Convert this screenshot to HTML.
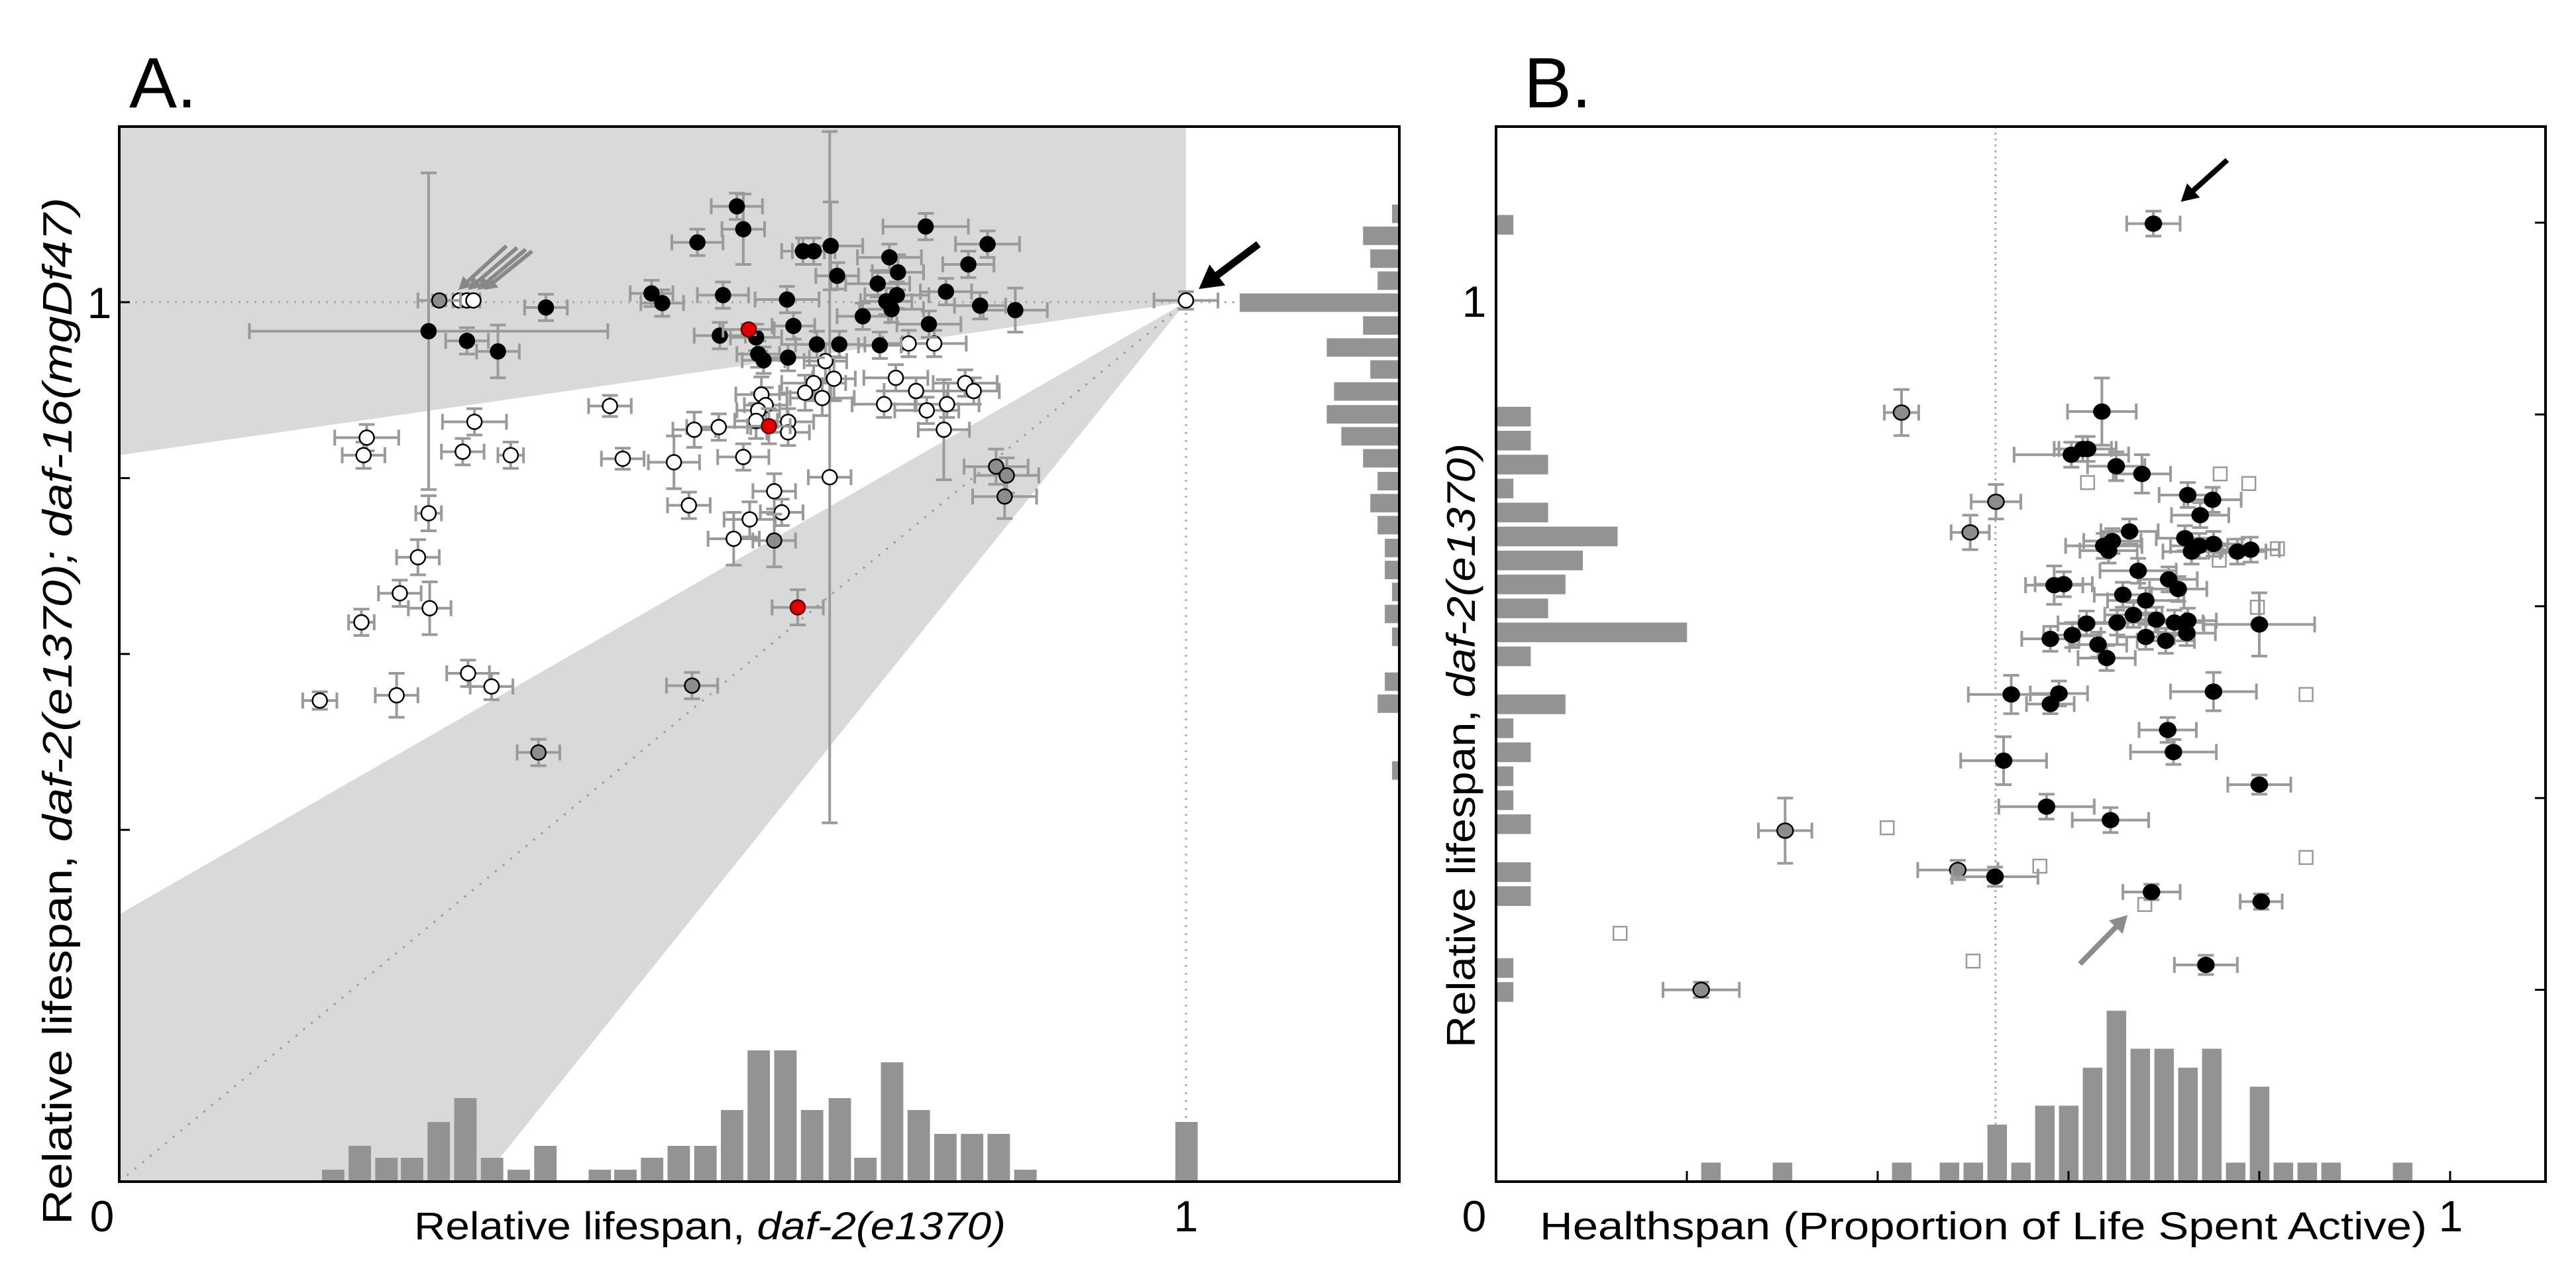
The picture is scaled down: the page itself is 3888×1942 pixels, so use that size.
<!DOCTYPE html>
<html><head><meta charset="utf-8"><style>
html,body{margin:0;padding:0;background:#fff;}
svg{display:block;font-family:"Liberation Sans",sans-serif;}
</style></head><body>
<svg id="fig" width="3888" height="1942" viewBox="0 0 3888 1942" xmlns="http://www.w3.org/2000/svg">
<g id="panelA"></g>
<g id="panelB"></g>
</svg>
<script>
// ---------- Panel A data ----------
const aBlackX=[0.579,0.585,0.542,0.641,0.651,0.667,0.756,0.814,0.796,0.722,0.673,0.730,0.711,0.729,0.775,0.499,0.509,0.566,0.626,0.719,0.724,0.807,0.840,0.400,0.697,0.759,0.632,0.290,0.326,0.355,0.563,0.597,0.654,0.675,0.713,0.599,0.604,0.627];
const aBlackY=[1.109,1.083,1.068,1.058,1.058,1.064,1.086,1.066,1.043,1.051,1.030,1.034,1.021,1.008,1.012,1.010,0.999,1.008,1.003,1.001,0.992,0.996,0.991,0.994,0.984,0.975,0.973,0.967,0.956,0.944,0.962,0.960,0.952,0.952,0.951,0.941,0.934,0.937];
const aBlackXErr=[0.024,0.02,0.024,0.02,0.02,0.03,0.04,0.03,0.024,0.03,0.02,0.024,0.03,0.03,0.024,0.02,0.02,0.024,0.03,0.024,0.03,0.024,0.03,0.02,0.024,0.03,0.02,0.168,0.02,0.02,0.024,0.024,0.02,0.024,0.02,0.02,0.02,0.02];
const aBlackYErr=[0.015,0.04,0.015,0.015,0.015,0.05,0.015,0.015,0.015,0.015,0.015,0.02,0.015,0.015,0.015,0.015,0.015,0.015,0.015,0.015,0.015,0.015,0.025,0.015,0.015,0.015,0.015,0.18,0.015,0.03,0.015,0.015,0.015,0.015,0.015,0.015,0.015,0.015];
const aRedX=[0.590,0.609,0.636];
const aRedY=[0.969,0.859,0.653];
const aGrayX=[0.300,0.822,0.832,0.830,0.614,0.537,0.393];
const aGrayY=[1.002,0.813,0.803,0.779,0.729,0.564,0.488];
const aGrayXErr=[0.02,0.03,0.03,0.03,0.02,0.024,0.02];
const aGrayYErr=[0.006,0.02,0.02,0.025,0.03,0.015,0.015];
const aWhiteX=[0.319,0.326,0.332,1.000,0.662,0.740,0.764,0.670,0.651,0.643,0.659,0.602,0.606,0.599,0.597,0.627,0.627,0.539,0.562,0.460,0.333,0.232,0.229,0.322,0.367,0.472,0.520,0.585,0.728,0.747,0.793,0.801,0.717,0.757,0.776,0.773,0.666,0.614,0.621,0.591,0.576,0.534,0.290,0.280,0.263,0.291,0.227,0.327,0.349,0.188,0.260];
const aWhiteY=[1.002,1.002,1.002,1.002,0.933,0.953,0.953,0.913,0.908,0.897,0.891,0.895,0.883,0.877,0.865,0.864,0.852,0.855,0.858,0.882,0.864,0.846,0.826,0.830,0.826,0.822,0.818,0.824,0.914,0.899,0.908,0.899,0.884,0.877,0.884,0.855,0.801,0.785,0.761,0.753,0.731,0.769,0.760,0.710,0.669,0.652,0.636,0.578,0.563,0.547,0.553];
const aWhiteXErr=[0.006,0.006,0.006,0.03,0.02,0.024,0.03,0.02,0.03,0.024,0.03,0.024,0.02,0.02,0.02,0.024,0.02,0.02,0.03,0.02,0.03,0.03,0.02,0.02,0.012,0.02,0.024,0.024,0.03,0.03,0.03,0.024,0.03,0.03,0.03,0.024,0.02,0.02,0.02,0.024,0.024,0.02,0.012,0.02,0.02,0.02,0.012,0.02,0.02,0.016,0.02];
const aWhiteYErr=[0.006,0.006,0.006,0.01,0.02,0.015,0.015,0.025,0.02,0.02,0.02,0.02,0.02,0.02,0.02,0.015,0.015,0.02,0.015,0.012,0.015,0.015,0.015,0.015,0.015,0.012,0.03,0.015,0.015,0.015,0.015,0.015,0.015,0.015,0.015,0.057,0.393,0.02,0.015,0.02,0.03,0.015,0.02,0.02,0.015,0.03,0.015,0.015,0.015,0.01,0.025];
const aHistBottomLeft=[0.190,0.215,0.240,0.264,0.289,0.314,0.339,0.364,0.389,0.440,0.464,0.489,0.514,0.539,0.564,0.589,0.614,0.639,0.665,0.689,0.714,0.739,0.764,0.789,0.814,0.839,0.990];
const aHistBottomCount=[1,3,2,2,5,7,2,1,3,1,1,2,3,3,6,11,11,6,7,2,10,6,4,4,4,1,5];
const aHistRightTop=[1.111,1.086,1.060,1.035,1.010,0.984,0.959,0.934,0.909,0.883,0.858,0.833,0.807,0.782,0.757,0.731,0.706,0.681,0.656,0.630,0.579,0.554,0.478];
const aHistRightCount=[1,5,4,3,22,5,10,4,9,10,8,5,3,4,3,2,2,1,2,1,2,3,1];

// ---------- Panel B data ----------
const bBlackX=[0.689,0.635,0.603,0.615,0.620,0.650,0.677,0.725,0.751,0.738,0.664,0.722,0.637,0.646,0.642,0.737,0.729,0.752,0.777,0.791,0.673,0.705,0.715,0.585,0.595,0.657,0.681,0.668,0.651,0.692,0.619,0.711,0.725,0.724,0.581,0.604,0.631,0.640,0.681,0.702,0.800,0.540,0.590,0.581,0.752,0.704,0.710,0.532,0.800,0.577,0.644,0.523,0.687,0.802,0.744];
const bBlackY=[0.999,0.803,0.758,0.764,0.764,0.746,0.738,0.716,0.711,0.695,0.678,0.671,0.663,0.668,0.658,0.663,0.657,0.665,0.657,0.659,0.637,0.628,0.618,0.622,0.623,0.612,0.606,0.591,0.583,0.586,0.582,0.583,0.585,0.572,0.566,0.570,0.560,0.546,0.568,0.564,0.581,0.508,0.509,0.498,0.511,0.471,0.448,0.439,0.414,0.391,0.377,0.318,0.302,0.292,0.226];
const bBlackXErr=[0.028,0.036,0.06,0.03,0.03,0.03,0.03,0.03,0.03,0.03,0.03,0.03,0.04,0.03,0.03,0.03,0.03,0.03,0.03,0.03,0.04,0.03,0.03,0.03,0.03,0.03,0.04,0.03,0.04,0.03,0.03,0.03,0.03,0.03,0.03,0.03,0.03,0.03,0.03,0.03,0.058,0.045,0.03,0.025,0.045,0.03,0.045,0.045,0.033,0.05,0.04,0.045,0.03,0.022,0.033];
const bBlackYErr=[0.013,0.035,0.013,0.013,0.013,0.015,0.02,0.013,0.013,0.013,0.013,0.013,0.013,0.013,0.013,0.013,0.013,0.013,0.013,0.013,0.013,0.013,0.013,0.02,0.013,0.013,0.013,0.013,0.013,0.013,0.013,0.013,0.013,0.013,0.013,0.013,0.013,0.013,0.013,0.013,0.033,0.02,0.013,0.01,0.02,0.013,0.013,0.025,0.01,0.013,0.013,0.01,0.008,0.008,0.01];
const bGrayX=[0.425,0.524,0.497,0.303,0.484,0.215];
const bGrayY=[0.802,0.709,0.677,0.366,0.325,0.200];
const bGrayXErr=[0.018,0.026,0.02,0.028,0.042,0.04];
const bGrayYErr=[0.024,0.018,0.018,0.034,0.01,0.008];
const bSquareX=[0.620,0.759,0.789,0.819,0.758,0.798,0.849,0.410,0.570,0.849,0.680,0.130,0.500];
const bSquareY=[0.729,0.738,0.728,0.660,0.648,0.599,0.508,0.369,0.329,0.338,0.289,0.259,0.230];
const bHistBottomLeft=[0.215,0.290,0.415,0.465,0.490,0.515,0.540,0.565,0.590,0.615,0.640,0.665,0.690,0.715,0.740,0.765,0.790,0.815,0.840,0.865,0.940];
const bHistBottomCount=[1,1,1,1,1,3,1,4,4,6,9,7,7,6,7,1,5,1,1,1,1];
const bHistLeftTop=[1.008,0.808,0.783,0.758,0.733,0.708,0.683,0.658,0.633,0.608,0.583,0.558,0.508,0.483,0.458,0.433,0.408,0.383,0.333,0.308,0.233,0.208];
const bHistLeftCount=[1,2,2,3,1,3,7,5,4,3,11,2,4,1,2,1,1,2,2,2,1,1];

// ---------- axis functions ----------
const A={L:180,T:191,B:1783,ux:1610,uy:1327};
const xa=v=>A.L+v*A.ux, ya=v=>A.B-v*A.uy;
const Bp={L:2258,T:191,B:1783,R:3842,ux:1440,uy:1447};
const xb=v=>Bp.L+v*Bp.ux, yb=v=>Bp.B-v*Bp.uy;
const NS='http://www.w3.org/2000/svg';
function mk(parent,tag,attrs,text){const e=document.createElementNS(NS,tag);for(const k in attrs)e.setAttribute(k,attrs[k]);if(text!==undefined)e.textContent=text;parent.appendChild(e);return e;}
const gA=document.getElementById('panelA'), gB=document.getElementById('panelB');
const EC='#9a9a9a';

function errbar(g,cx,cy,x1,x2,y1,y2){
  const eb=mk(g,'g',{stroke:EC,'stroke-width':4,fill:'none'});
  
  
  mk(eb,'line',{x1:x1,y1:cy,x2:x2,y2:cy});
  mk(eb,'line',{x1:x1,y1:cy-12,x2:x1,y2:cy+12});
  mk(eb,'line',{x1:x2,y1:cy-12,x2:x2,y2:cy+12});
  mk(eb,'line',{x1:cx,y1:y1,x2:cx,y2:y2});
  mk(eb,'line',{x1:cx-12,y1:y1,x2:cx+12,y2:y1});
  mk(eb,'line',{x1:cx-12,y1:y2,x2:cx+12,y2:y2});
}

// ===== Panel A =====
const shade1=mk(gA,'polygon',{points:[[xa(0),ya(1.2)],[xa(1),ya(1.2)],[xa(1),ya(1)],[xa(0),ya(0.826)]].join(' '),fill:'#d9d9d9'});


const shade2=mk(gA,'polygon',{points:[[xa(1),ya(1)],[xa(0),ya(0.304)],[xa(0),ya(0)],[xa(0.339),ya(0)]].join(' '),fill:'#d9d9d9'});


const dl1=mk(gA,'line',{x1:xa(0),y1:ya(1),x2:xa(1.2),y2:ya(1),stroke:'#aaa','stroke-width':3,'stroke-dasharray':'3 9'});


const dl2=mk(gA,'line',{x1:xa(1),y1:ya(0),x2:xa(1),y2:ya(1),stroke:'#aaa','stroke-width':3,'stroke-dasharray':'3 9'});


const dl3=mk(gA,'line',{x1:xa(0),y1:ya(0),x2:xa(1),y2:ya(1),stroke:'#999','stroke-width':3,'stroke-dasharray':'3 12'});


for(let i=0;i<aHistBottomLeft.length;i++){
  const h=aHistBottomCount[i]*0.01357;
  const r=mk(gA,'rect',{x:xa(aHistBottomLeft[i]),y:ya(h),width:xa(0.021)-xa(0),height:ya(0)-ya(h),fill:'#939393'});
  
  
}
for(let i=0;i<aHistRightTop.length;i++){
  const w=aHistRightCount[i]*0.0068;
  const r=mk(gA,'rect',{x:xa(1.2-w),y:ya(aHistRightTop[i]),width:xa(w)-xa(0),height:ya(0)-ya(0.021),fill:'#939393'});
  
  
}
function drawPointsA(X,Y,XE,YE,fill,stroke,name){
  for(let i=0;i<X.length;i++){
    const xe=XE?XE[i]:0,ye=YE?YE[i]:0;
    if(XE) errbar(gA,xa(X[i]),ya(Y[i]),xa(X[i]-xe),xa(X[i]+xe),ya(Y[i]+ye),ya(Y[i]-ye));
  }
  for(let i=0;i<X.length;i++){
    const c=mk(gA,'circle',{cx:xa(X[i]),cy:ya(Y[i]),r:11,fill:fill,stroke:stroke,'stroke-width':2.5});
    
    
  }
}
drawPointsA(aWhiteX,aWhiteY,aWhiteXErr,aWhiteYErr,'#fff','#000','white-point');
drawPointsA(aGrayX,aGrayY,aGrayXErr,aGrayYErr,'#8c8c8c','#000','gray-point');
drawPointsA(aBlackX,aBlackY,aBlackXErr,aBlackYErr,'#000','#000','black-point');
drawPointsA(aRedX,aRedY,aBlackXErr.slice(0,3),aGrayYErr.slice(0,3),'#e00000','#600','red-point');
function arrow(g,x1,y1,x2,y2,color,w,name){
  const a=mk(g,'g',{});
  
  
  const dx=x2-x1,dy=y2-y1,L=Math.hypot(dx,dy),ux=dx/L,uy=dy/L,hl=w*3.2,hw=w*1.8;
  mk(a,'line',{x1:x1,y1:y1,x2:x2-ux*hl*0.8,y2:y2-uy*hl*0.8,stroke:color,'stroke-width':w});
  mk(a,'polygon',{points:`${x2},${y2} ${x2-ux*hl-uy*hw},${y2-uy*hl+ux*hw} ${x2-ux*hl+uy*hw},${y2-uy*hl-ux*hw}`,fill:color});
}
arrow(gA,xa(1.068),ya(1.066),xa(1.012),ya(1.015),'#000',11,'reference-arrow');
arrow(gA,xa(0.363),ya(1.064),xa(0.318),ya(1.014),'#888',6,'gray-arrow');
arrow(gA,xa(0.373),ya(1.062),xa(0.327),ya(1.014),'#888',6,'gray-arrow');
arrow(gA,xa(0.381),ya(1.060),xa(0.336),ya(1.014),'#888',6,'gray-arrow');
arrow(gA,xa(0.387),ya(1.058),xa(0.342),ya(1.014),'#888',6,'gray-arrow');
const frA=mk(gA,'rect',{x:A.L,y:A.T,width:xa(1.2)-A.L,height:A.B-A.T,fill:'none',stroke:'#000','stroke-width':4});


const aYTicks=[0.4,0.6,0.8,1.0];
for(const t of aYTicks){const tk=mk(gA,'line',{x1:A.L,y1:ya(t),x2:A.L+16,y2:ya(t),stroke:'#000','stroke-width':3});}
let t;
t=mk(gA,'text',{x:195,y:162,'font-size':108},'A.');
t=mk(gA,'text',{x:154,y:1858,'font-size':66,'text-anchor':'middle'},'0');
t=mk(gA,'text',{x:xa(1),y:1858,'font-size':66,'text-anchor':'middle'},'1');
t=mk(gA,'text',{x:150,y:ya(1)+24,'font-size':66,'text-anchor':'middle'},'1');
t=mk(gA,'text',{x:625,y:1870,'font-size':58,textLength:893,lengthAdjust:'spacingAndGlyphs'});
t.innerHTML='Relative lifespan, <tspan font-style="italic">daf-2(e1370)</tspan>';

t=mk(gA,'text',{x:0,y:0,'font-size':62,transform:'translate(108,1848) rotate(-90)',textLength:1550,lengthAdjust:'spacingAndGlyphs'});
t.innerHTML='Relative lifespan, <tspan font-style="italic">daf-2(e1370); daf-16(mgDf47)</tspan>';


// ===== Panel B =====
const dlb=mk(gB,'line',{x1:xb(0.5235),y1:Bp.T,x2:xb(0.5235),y2:Bp.B,stroke:'#aaa','stroke-width':3,'stroke-dasharray':'3 6'});


for(let i=0;i<bHistBottomLeft.length;i++){
  const h=bHistBottomCount[i]*0.0198;
  const r=mk(gB,'rect',{x:xb(bHistBottomLeft[i]),y:yb(h),width:xb(0.0205)-xb(0),height:yb(0)-yb(h),fill:'#939393'});
  
  
}
for(let i=0;i<bHistLeftTop.length;i++){
  const w=bHistLeftCount[i]*0.0182;
  const r=mk(gB,'rect',{x:xb(0),y:yb(bHistLeftTop[i]),width:xb(w)-xb(0),height:yb(0)-yb(0.0205),fill:'#939393'});
  
  
}
for(let i=0;i<bSquareX.length;i++){
  const s=mk(gB,'rect',{x:xb(bSquareX[i])-10,y:yb(bSquareY[i])-10,width:20,height:20,fill:'#fff',stroke:'#999','stroke-width':2.5});
  
  
}
function drawPointsB(X,Y,XE,YE,fill,name){
  for(let i=0;i<X.length;i++) errbar(gB,xb(X[i]),yb(Y[i]),xb(X[i]-XE[i]),xb(X[i]+XE[i]),yb(Y[i]+YE[i]),yb(Y[i]-YE[i]));
  for(let i=0;i<X.length;i++){
    const c=mk(gB,'ellipse',{cx:xb(X[i]),cy:yb(Y[i]),rx:12,ry:11,fill:fill,stroke:'#000','stroke-width':2.5});
    
    
  }
}
drawPointsB(bGrayX,bGrayY,bGrayXErr,bGrayYErr,'#8c8c8c','gray-point');
drawPointsB(bBlackX,bBlackY,bBlackXErr,bBlackYErr,'#000','black-point');
arrow(gB,xb(0.690)+110,yb(0.999)-96,xb(0.690)+40,yb(0.999)-33,'#000',8,'black-arrow');
arrow(gB,xb(0.612),yb(0.227),xb(0.662),yb(0.278),'#8c8c8c',8,'gray-arrow');
const frB=mk(gB,'rect',{x:Bp.L,y:Bp.T,width:Bp.R-Bp.L,height:Bp.B-Bp.T,fill:'none',stroke:'#000','stroke-width':4});


const bTicks=[0.2,0.4,0.6,0.8,1.0];
for(const v of bTicks){
  const tx=mk(gB,'line',{x1:xb(v),y1:Bp.B,x2:xb(v),y2:Bp.B-16,stroke:'#000','stroke-width':3});
  
  const ty=mk(gB,'line',{x1:Bp.R,y1:yb(v),x2:Bp.R-16,y2:yb(v),stroke:'#000','stroke-width':3});
  
}
t=mk(gB,'text',{x:2300,y:162,'font-size':108},'B.');
t=mk(gB,'text',{x:2225,y:1858,'font-size':66,'text-anchor':'middle'},'0');
t=mk(gB,'text',{x:3699,y:1858,'font-size':66,'text-anchor':'middle'},'1');
t=mk(gB,'text',{x:2225,y:478,'font-size':66,'text-anchor':'middle'},'1');
t=mk(gB,'text',{x:2324,y:1870,'font-size':58,textLength:1339,lengthAdjust:'spacingAndGlyphs'},'Healthspan (Proportion  of Life Spent Active)');

t=mk(gB,'text',{x:0,y:0,'font-size':60,transform:'translate(2226,1581) rotate(-90)',textLength:912,lengthAdjust:'spacingAndGlyphs'});
t.innerHTML='Relative lifespan, <tspan font-style="italic">daf-2(e1370)</tspan>';

</script>
</body></html>
